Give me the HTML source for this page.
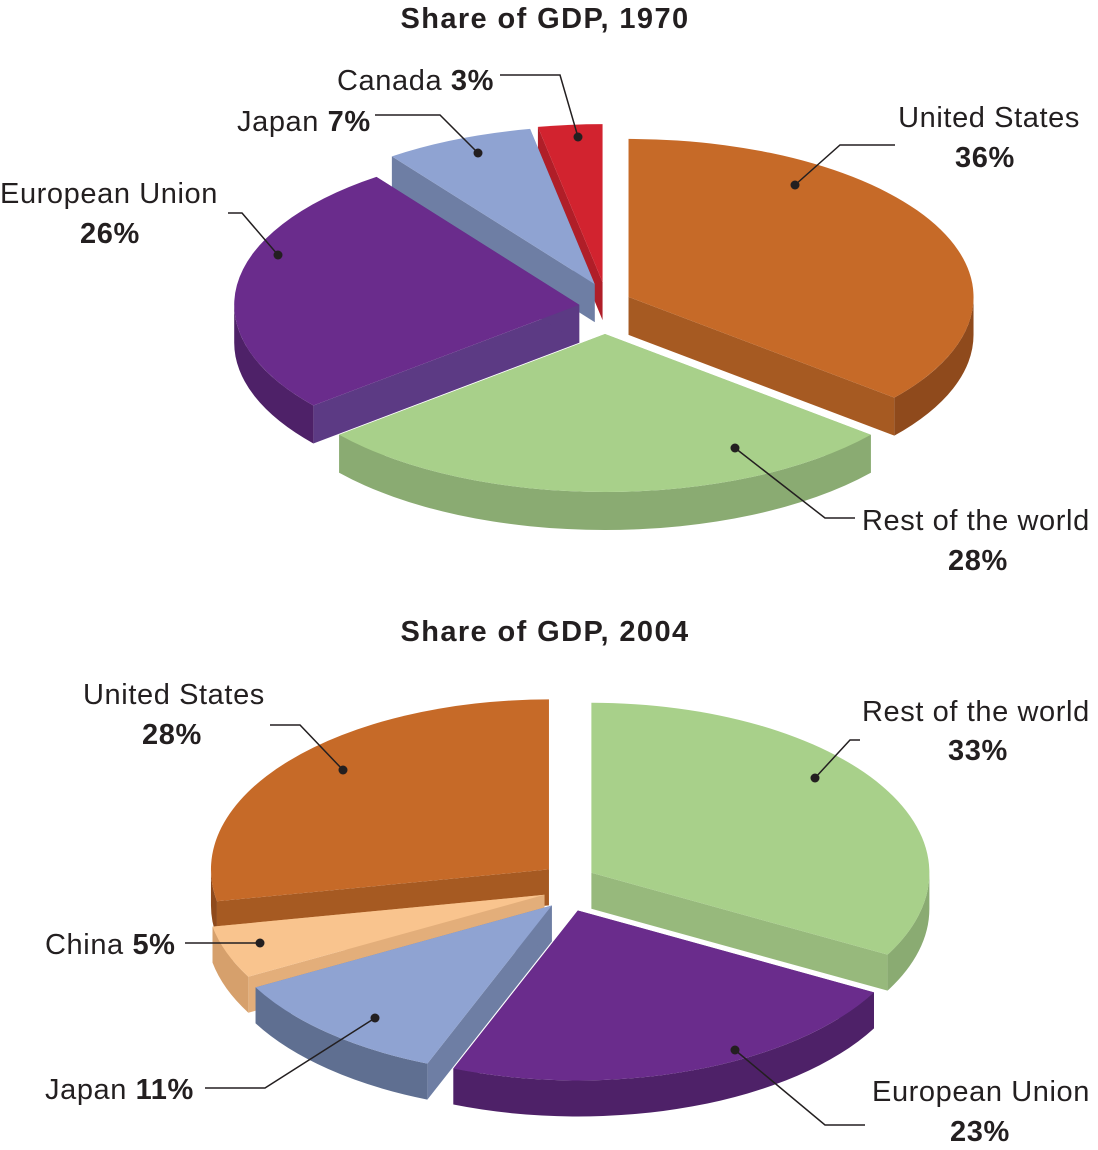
<!DOCTYPE html>
<html><head><meta charset="utf-8"><style>
html,body{margin:0;padding:0;background:#fff}
svg{display:block}
text{font-family:"Liberation Sans",sans-serif;font-size:29px;letter-spacing:0.6px;fill:#231f20}
.b{font-weight:bold}
</style></head><body>
<svg id="chart" width="1098" height="1150" viewBox="0 0 1098 1150" xmlns="http://www.w3.org/2000/svg">
<text class="b" x="545" y="28" text-anchor="middle" style="font-size:29px;letter-spacing:1.4px">Share of GDP, 1970</text>
<text class="b" x="545" y="641" text-anchor="middle" style="font-size:29px;letter-spacing:1.4px">Share of GDP, 2004</text>
<g id="pie1"></g>
<g id="pie2"></g>
<g fill="none" stroke="#231f20" stroke-width="1.5">
<polyline points="500,75 560,75 578,137"/><polyline points="375,115 440,115 478,153"/>
<polyline points="228,213 242,213 278,255"/><polyline points="895,145 840,145 795,185"/>
<polyline points="855,518 825,518 735,448"/>
<polyline points="270,725 300,725 343,770"/><polyline points="860,740 850,740 815,778"/>
<polyline points="185,943 212,943 260,943"/><polyline points="205,1088 265,1088 375,1018"/>
<polyline points="865,1125 825,1125 735,1050"/>
</g>
<g fill="#231f20">
<circle cx="578" cy="137" r="4.5"/><circle cx="478" cy="153" r="4.5"/><circle cx="278" cy="255" r="4.5"/>
<circle cx="795" cy="185" r="4.5"/><circle cx="735" cy="448" r="4.5"/>
<circle cx="343" cy="770" r="4.5"/><circle cx="815" cy="778" r="4.5"/><circle cx="260" cy="943" r="4.5"/>
<circle cx="375" cy="1018" r="4.5"/><circle cx="735" cy="1050" r="4.5"/>
</g>
<text x="337" y="90">Canada <tspan class="b">3%</tspan></text>
<text x="237" y="131">Japan <tspan class="b">7%</tspan></text>
<text x="0" y="203">European Union</text>
<text class="b" x="80" y="243">26%</text>
<text x="1080" y="127" text-anchor="end">United States</text>
<text class="b" x="955" y="167">36%</text>
<text x="862" y="530">Rest of the world</text>
<text class="b" x="948" y="570">28%</text>
<text x="83" y="704">United States</text>
<text class="b" x="142" y="744">28%</text>
<text x="862" y="721">Rest of the world</text>
<text class="b" x="948" y="760">33%</text>
<text x="45" y="954">China <tspan class="b">5%</tspan></text>
<text x="45" y="1099">Japan <tspan class="b">11%</tspan></text>
<text x="872" y="1101">European Union</text>
<text class="b" x="950" y="1141">23%</text>
</svg>
<script>
const names1970 = ["United States","Rest of the world","European Union","Japan","Canada"];
const values1970 = [36,28,26,7,3];
const names2004 = ["Rest of the world","European Union","Japan","China","United States"];
const values2004 = [33,23,11,5,28];
const palette = {
 "United States":["#c66a28","#8f4a1c","#a65a22"],
 "Rest of the world":["#a8d08a","#8aab72","#97b97c"],
 "European Union":["#6a2c8c","#4e2168","#5c3a84"],
 "Japan":["#8fa3d2","#5f6f91","#6e7ea4"],
 "Canada":["#d2232f","#9c1a22","#b01e28"],
 "China":["#f9c48e","#d6a06c","#e3ae7a"]
};
function drawPie(gid, names, values, cx, cy, rx, ry, depth, explode){
 const g=document.getElementById(gid);
 const total=values.reduce((a,b)=>a+b,0);
 const NS="http://www.w3.org/2000/svg";
 let acc=0; const slices=[];
 values.forEach((v,i)=>{const a=acc/total*2*Math.PI; acc+=v; const b=acc/total*2*Math.PI; slices.push({i,a,b,m:(a+b)/2});});
 slices.sort((s,t)=>(-Math.cos(s.m))-(-Math.cos(t.m)));
 slices.forEach(s=>{
  const col=palette[names[s.i]];
  const ox=cx+explode*Math.sin(s.m), oy=cy-explode*Math.cos(s.m);
  const P=(t,d)=>[ox+rx*Math.sin(t), oy-ry*Math.cos(t)+(d||0)];
  const grp=document.createElementNS(NS,"g");
  
  
  const add=(d,fill)=>{const p=document.createElementNS(NS,"path");p.setAttribute("d",d);p.setAttribute("fill",fill);grp.appendChild(p);return p;};
  [s.a,s.b].forEach(t=>{const e=P(t);
   const f=add(`M${ox},${oy} L${e[0]},${e[1]} L${e[0]},${e[1]+depth} L${ox},${oy+depth} Z`,col[2]);
   });
  const lo=Math.max(s.a,Math.PI/2), hi=Math.min(s.b,1.5*Math.PI);
  if(hi>lo){const p1=P(lo),p2=P(hi),lg=(hi-lo)>Math.PI?1:0;
   const w=add(`M${p1[0]},${p1[1]} A${rx},${ry} 0 ${lg} 1 ${p2[0]},${p2[1]} L${p2[0]},${p2[1]+depth} A${rx},${ry} 0 ${lg} 0 ${p1[0]},${p1[1]+depth} Z`,col[1]);
   }
  const pa=P(s.a),pb=P(s.b),lg=(s.b-s.a)>Math.PI?1:0;
  const top=add(`M${ox},${oy} L${pa[0]},${pa[1]} A${rx},${ry} 0 ${lg} 1 ${pb[0]},${pb[1]} Z`,col[0]);
  
  g.appendChild(grp);
 });
}
drawPie("pie1",names1970,values1970,605,308,345,158,38,26);
drawPie("pie2",names2004,values2004,569,886,338,170,36,26);
</script>
</body></html>
